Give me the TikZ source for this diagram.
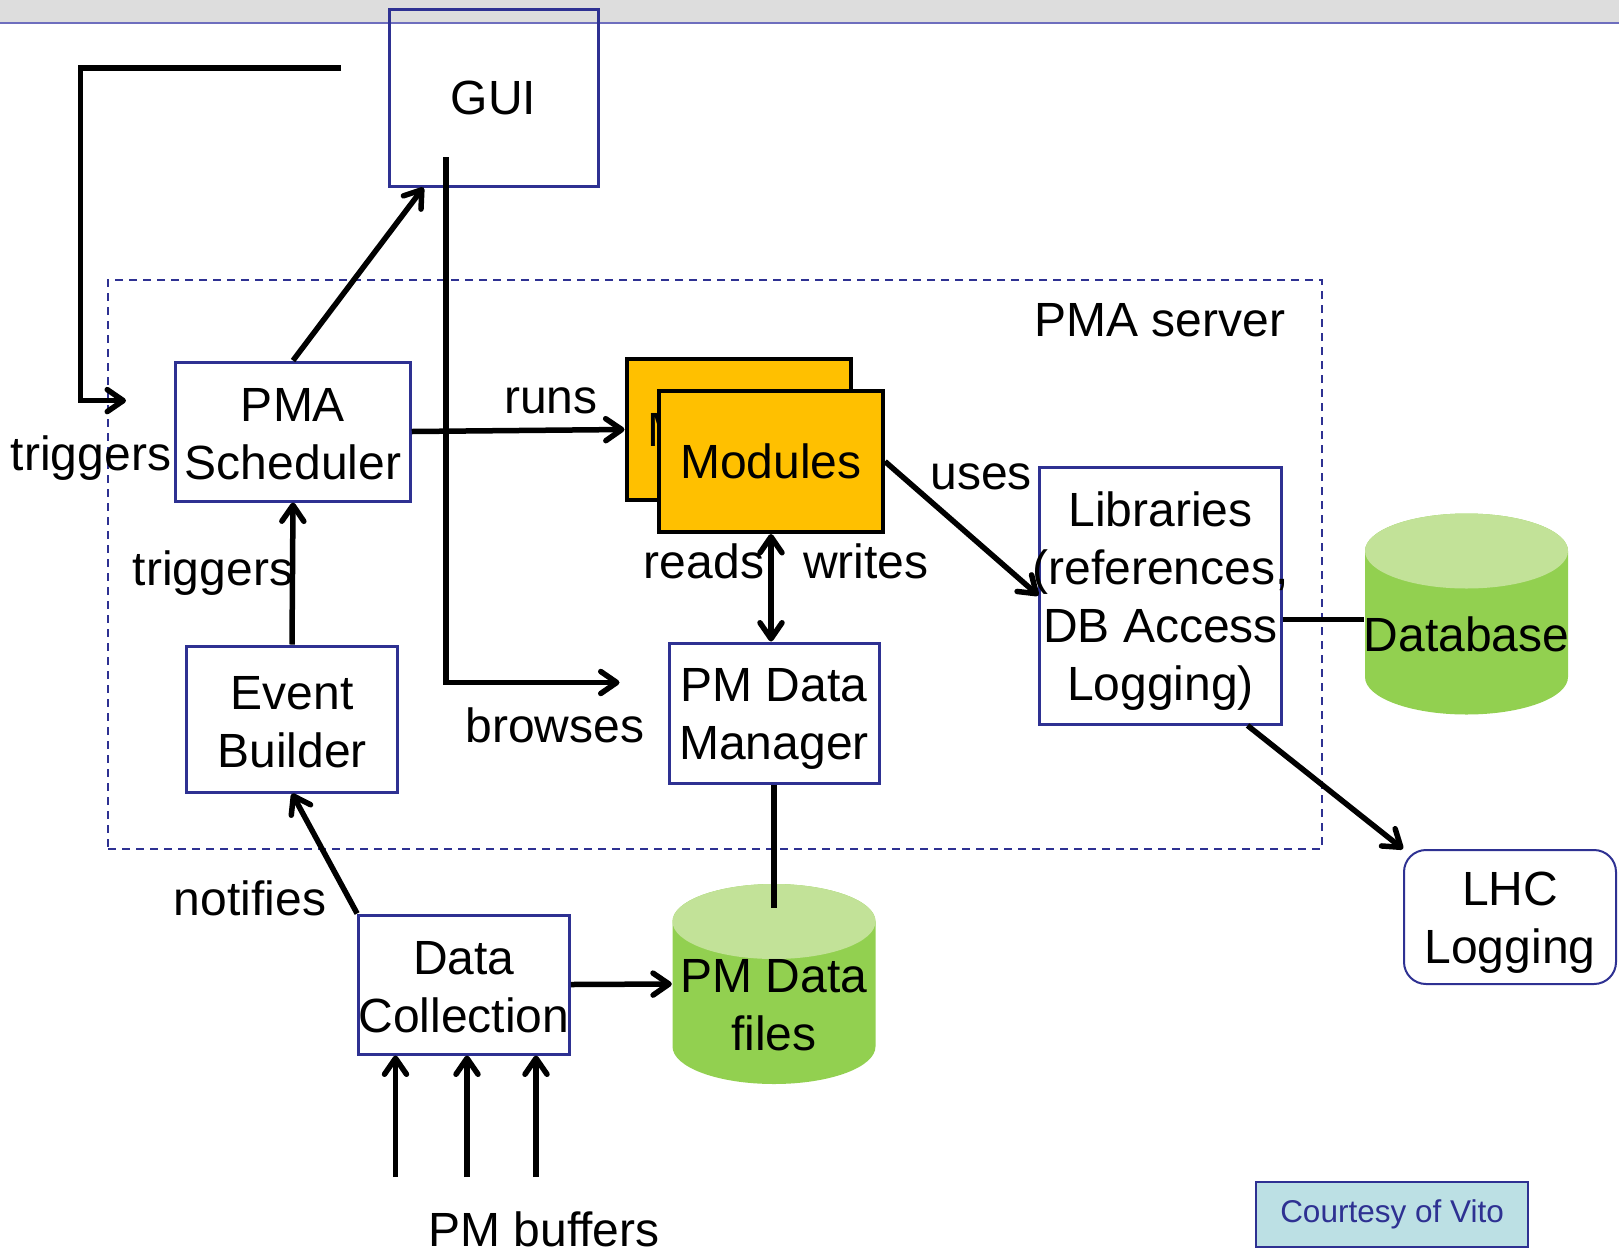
\documentclass[tikz,border=0pt]{standalone}
\usepackage{fontspec}
\setmainfont{Liberation Sans}
\usetikzlibrary{arrows.meta, positioning}

\definecolor{boxline}{RGB}{46,49,146}
\definecolor{modfill}{RGB}{255,192,0}
\definecolor{dbbody}{RGB}{146,208,80}
\definecolor{dbtop}{RGB}{194,226,152}
\definecolor{notefill}{RGB}{188,224,228}
\definecolor{barfill}{RGB}{221,221,221}
\definecolor{barline}{RGB}{110,110,190}

\begin{document}
\begin{tikzpicture}[
  x=1pt,
  y=-1pt,
  every node/.style={font=\fontsize{48}{58}\selectfont},
  box/.style={
    rectangle,
    draw=boxline,
    line width=3pt,
    align=center,
    inner sep=0pt
  },
  serverbox/.style={
    rectangle,
    draw=boxline,
    line width=1.5pt,
    dash pattern=on 8pt off 6pt,
    minimum width=1214pt,
    minimum height=569pt
  },
  modbox/.style={
    rectangle,
    draw=black,
    line width=4pt,
    fill=modfill,
    inner sep=0pt,
    minimum width=224pt,
    minimum height=141pt
  },
  store/.style={
    rectangle,
    align=center,
    inner sep=0pt,
    minimum width=203pt,
    minimum height=201pt,
    path picture={
      \fill[dbbody] ([shift={(-101.5pt,-37.5pt)}]path picture bounding box.north)
        -- ([shift={(-101.5pt,37.5pt)}]path picture bounding box.south)
        arc[start angle=180, end angle=360, x radius=101.5pt, y radius=37.5pt]
        -- ([shift={(101.5pt,-37.5pt)}]path picture bounding box.north)
        arc[start angle=0, end angle=180, x radius=101.5pt, y radius=37.5pt]
        -- cycle;
      \fill[dbtop] ([yshift=-37.5pt]path picture bounding box.north)
        ellipse[x radius=101.5pt, y radius=37.5pt];
    }
  },
  logbox/.style={box, line width=2pt, rounded corners=22pt},
  note/.style={
    rectangle,
    draw=boxline,
    line width=2pt,
    fill=notefill,
    text=boxline,
    font=\fontsize{31.5}{38}\selectfont,
    minimum width=272pt,
    minimum height=65pt
  },
  lbl/.style={inner sep=0pt},
  arrow/.style={-{Straight Barb[length=16pt, width=22pt, round]}, line width=5.5pt},
  twoway/.style={{Straight Barb[length=16pt, width=22pt, round]}-{Straight Barb[length=16pt, width=22pt, round]}, line width=5.5pt},
  link/.style={line width=5.5pt}
]

\useasboundingbox (0,0) rectangle (1619,1248);

% slide header
\fill[barfill] (0,0) rectangle (1619,23);
\draw[barline, line width=1.5pt] (0,23) -- (1619,23);

\node[serverbox] (server) at (715,564.5) {};
\node[lbl] (servername) at (1160,320) {PMA server};

\node[box, minimum width=209pt, minimum height=177pt] (gui) at (493.5,97.5) {GUI};

\node[box, minimum width=234.5pt, minimum height=139pt] (sched) at (293,431.5)
{\rule{0pt}{38pt}PMA\\Scheduler};

\node[modbox] (modback) at (738.5,429.5) {Modules};
\node[modbox] (mod) at (771,461.5) {Modules};

\node[box, inner xsep=-7.5pt, minimum height=257pt] (lib) at (1160.5,595.5)
{\rule{0pt}{46pt}Libraries\\(references,\\DB Access\\Logging)};

\node[store] (db) at (1466.5,614) {\rule{0pt}{75pt}Database};

\node[logbox, minimum width=212pt, minimum height=134pt] (lhc) at (1510,917)
{\rule{0pt}{45pt}LHC\\Logging};

\node[box, minimum width=210pt, minimum height=140pt] (mgr) at (774,713)
{\rule{0pt}{45pt}PM Data\\Manager};

\node[store, minimum width=204pt, minimum height=200pt] (files) at (774,984)
{\rule{0pt}{75pt}PM Data\\files};

\node[box, minimum width=210.5pt, minimum height=146pt] (event) at (292,719)
{\rule{0pt}{40pt}Event\\Builder};

\node[box, minimum width=210pt, minimum height=139pt] (coll) at (464,984.5)
{\rule{0pt}{38pt}Data\\Collection};

\node[note] (courtesy) at (1392,1214.5) {Courtesy of Vito};

% labels
\node[lbl] (runs) at (551,400.5) {runs};
\node[lbl] (uses) at (981,477) {uses};
\node[lbl] (reads) at (704,561) {reads};
\node[lbl] (writes) at (866,561) {writes};
\node[lbl] (browses) at (555,725.5) {browses};
\node[lbl] (trigout) at (91,458) {triggers};
\node[lbl] (trigin) at (213,573) {triggers};
\node[lbl] (notifies) at (250,898) {notifies};
\node[lbl] (buffers) at (544,1229) {PM buffers};

% free ends
\coordinate (loopstart) at (341,68);
\coordinate (loopcorner) at (80.5,68);
\coordinate (looptip) at (126,400.6);
\coordinate (guiout) at (446,157);
\coordinate (browsetip) at (619.5,682.5);
\coordinate (buf1) at (395.5,1177);
\coordinate (buf2) at (467,1177);
\coordinate (buf3) at (536,1177);

\draw[arrow] (loopstart) -- (loopcorner) |- (looptip);
\draw[arrow] (guiout) |- (browsetip);
\draw[arrow] (sched.north) -- ([xshift=36pt]gui.south west);
\draw[arrow] (sched.east) -- (modback.west);
\draw[arrow] (mod.east) -- (lib.west);
\draw[twoway] (mod.south) -- (mod.south |- mgr.north);
\draw[link] ([yshift=-24pt]lib.east) -- ([yshift=-24pt]lib.east -| db.west);
\draw[arrow] ([xshift=-35pt]lib.south east) -- (lhc.north west);
\draw[link] (mgr.south) -- ([yshift=-24pt]files.north);
\draw[arrow] (event.north) -- (sched.south);
\draw[arrow] (coll.north west) -- (event.south);
\draw[arrow] (coll.east) -- (files.west);
\draw[arrow] (buf1) -- (buf1 |- coll.south);
\draw[arrow] (buf2) -- (buf2 |- coll.south);
\draw[arrow] (buf3) -- (buf3 |- coll.south);

\end{tikzpicture}
\end{document}
